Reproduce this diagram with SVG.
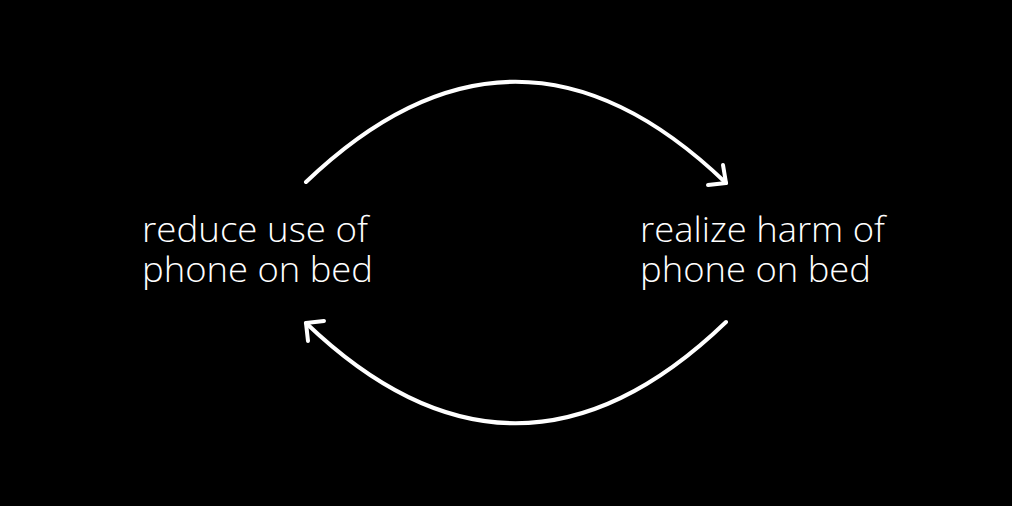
<svg xmlns="http://www.w3.org/2000/svg" width="1012" height="506" viewBox="0 0 1012 506">
<style>
.lbl{font-family:"Open Sans","Lato","Liberation Sans",sans-serif;font-weight:300;font-size:34px;fill:#ffffff}
.conn{fill:none;stroke:#ffffff;stroke-width:4;stroke-linecap:round;stroke-linejoin:round}
</style>
<rect x="0" y="0" width="1012" height="506" fill="#000000"/>
<g id="node-reduce">
<text class="lbl"><tspan x="142" y="242" textLength="226" lengthAdjust="spacingAndGlyphs">reduce use of</tspan><tspan x="142" y="282" textLength="231" lengthAdjust="spacingAndGlyphs">phone on bed</tspan></text>
</g>
<g id="node-realize">
<text class="lbl"><tspan x="640" y="242" textLength="245" lengthAdjust="spacingAndGlyphs">realize harm of</tspan><tspan x="640" y="282" textLength="231" lengthAdjust="spacingAndGlyphs">phone on bed</tspan></text>
</g>
<g id="connectors">
<path class="conn" d="M306,182 Q516,-19 726,183"/>
<path class="conn" d="M723,165 L726,183 L708,185"/>
<path class="conn" d="M726,322 Q516,524 306,323"/>
<path class="conn" d="M324,321 L306,323 L308,341"/>
</g>
</svg>
